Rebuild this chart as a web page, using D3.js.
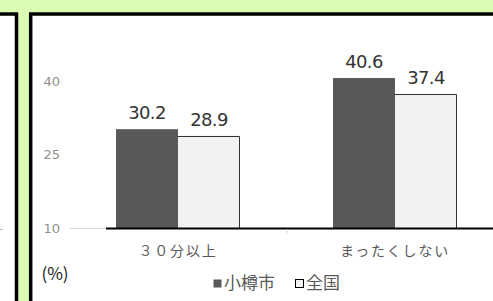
<!DOCTYPE html>
<html>
<head>
<meta charset="utf-8">
<script src="https://cdn.jsdelivr.net/npm/d3@7"></script>
<style>
  html, body { margin: 0; padding: 0; background: #dcfcb6; }
  svg { display: block; }
  text { font-family: "Noto Sans CJK JP", "Noto Sans", sans-serif; }
  .num { font-family: "DejaVu Sans", sans-serif; }
</style>
</head>
<body>
<svg id="chart" width="493" height="301"></svg>
<script>
var categories = ["３０分以上", "まったくしない"];
var series = ["小樽市", "全国"];
var otaru = [30.2, 40.6];
var zenkoku = [28.9, 37.4];
var yTicks = [10, 25, 40];
var unitLabel = "(%)";

var svg = d3.select("#chart"),
    W = +svg.attr("width"),
    H = +svg.attr("height");

var colors = {"小樽市": "#595959", "全国": "#f2f2f2"};

// panels
svg.append("rect").attr("x", -30).attr("y", 14).attr("width", 46.5).attr("height", H + 30)
    .attr("fill", "#fff").attr("stroke", "#000").attr("stroke-width", 3.5);
svg.append("line").attr("x1", 0).attr("x2", 3).attr("y1", 229.5).attr("y2", 229.5)
    .attr("stroke", "#bbb");
svg.append("rect").attr("x", 30.7).attr("y", 14).attr("width", W).attr("height", H)
    .attr("fill", "#fff").attr("stroke", "#000").attr("stroke-width", 3.5);

var x0 = d3.scaleBand().domain(categories).range([69.5, 503.5]);
var x1 = d3.scaleBand().domain(series).range([0, x0.bandwidth()]).paddingOuter(0.75);
var y = d3.scaleLinear().domain([10, 40]).range([228.5, 81]);

var data = categories.map(function(c, i) {
    return {cat: c, vals: [{s: series[0], v: otaru[i]}, {s: series[1], v: zenkoku[i]}]};
});

var g = svg.append("g");

// y labels
g.selectAll(".ytick").data(yTicks).enter().append("text")
    .attr("class", "num")
    .attr("x", 60).attr("y", function(d) { return y(d); })
    .attr("dy", "0.36em").attr("text-anchor", "end")
    .attr("fill", "#8f8f8f").attr("font-size", 13)
    .text(function(d) { return d; });

var groups = g.selectAll(".grp").data(data).enter().append("g")
    .attr("transform", function(d) { return "translate(" + x0(d.cat) + ",0)"; });

groups.selectAll("rect").data(function(d) { return d.vals; }).enter().append("rect")
    .attr("x", function(d) { return x1(d.s); })
    .attr("y", function(d) { return y(d.v); })
    .attr("width", x1.bandwidth())
    .attr("height", function(d) { return y(10) - y(d.v); })
    .attr("fill", function(d) { return colors[d.s]; });

// outline of the light bars (top + right)
groups.selectAll("path.edge").data(function(d) { return d.vals.filter(function(v) { return v.s === "全国"; }); })
    .enter().append("path")
    .attr("fill", "none").attr("stroke", "#333").attr("stroke-width", 1)
    .attr("d", function(d) {
        var xl = x1(d.s), xr = xl + x1.bandwidth(), yt = Math.round(y(d.v)) + 0.5;
        return "M" + xl + "," + yt + "H" + (xr - 0.5) + "V" + y(10);
    });

groups.selectAll("text.val").data(function(d) { return d.vals; }).enter().append("text")
    .attr("class", "num")
    .attr("x", function(d) { return x1(d.s) + x1.bandwidth() / 2; })
    .attr("y", function(d) { return y(d.v) - 10; })
    .attr("text-anchor", "middle").attr("fill", "#333").attr("font-size", 18)
    .attr("letter-spacing", "-0.6px")
    .text(function(d) { return d.v.toFixed(1); });

// axis lines
g.append("line").attr("x1", x0.range()[0]).attr("x2", W).attr("y1", y(10)).attr("y2", y(10))
    .attr("stroke", "#d9d9d9").attr("stroke-width", 1);
g.append("line").attr("x1", 106).attr("x2", W).attr("y1", y(10)).attr("y2", y(10))
    .attr("stroke", "#000").attr("stroke-width", 2);
g.append("line").attr("x1", x0(categories[1]) + 0.5).attr("x2", x0(categories[1]) + 0.5)
    .attr("y1", y(10) + 1).attr("y2", y(10) + 5).attr("stroke", "#d9d9d9");

g.selectAll(".cat").data(categories).enter().append("text")
    .attr("x", function(d) { return x0(d) + x0.bandwidth() / 2; })
    .attr("y", 256).attr("text-anchor", "middle")
    .attr("fill", "#595959").attr("font-size", 14).attr("letter-spacing", "1.8px")
    .text(function(d) { return d; });

g.append("text").attr("x", 55).attr("y", 280).attr("text-anchor", "middle")
    .attr("fill", "#222").attr("font-size", 17).text(unitLabel);

// legend
var legX = [213, 295];
var leg = g.selectAll(".leg").data(series).enter().append("g")
    .attr("transform", function(d, i) { return "translate(" + legX[i] + ",279)"; });
leg.append("rect").attr("x", 0.5).attr("y", 0.5).attr("width", 8).attr("height", 8)
    .attr("fill", function(d) { return colors[d]; })
    .attr("stroke", function(d, i) { return i === 0 ? "none" : "#000"; });
leg.append("text").attr("x", 11).attr("y", 10).attr("fill", "#595959").attr("font-size", 17)
    .text(function(d) { return d; });
</script>
</body>
</html>
